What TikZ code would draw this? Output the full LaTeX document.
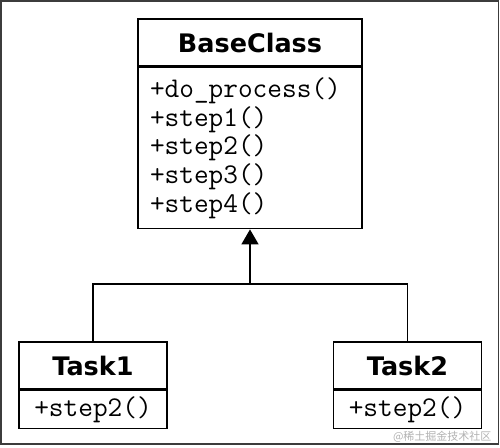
\documentclass[tikz,border=0pt]{standalone}
\usepackage{fontspec}
\usepackage{tikz}
\usetikzlibrary{arrows.meta,positioning}
\newfontfamily\titlefont{DejaVu Sans}
\newfontfamily\cjk{Noto Sans CJK SC}
\definecolor{frame}{RGB}{60,60,60}

\begin{document}
\begin{tikzpicture}[x=1pt,y=-1pt,
    titlebox/.style={draw,line width=1.6pt,inner sep=0pt,font=\titlefont\bfseries\fontsize{25.5}{30}\selectfont},
    methbox/.style={draw,line width=1.6pt,inner sep=0pt,font=\ttfamily\fontsize{28.5}{28.7}\selectfont}]
  \useasboundingbox (0,0) rectangle (500,447);
  \draw[frame,line width=1.6pt] (1,1) rectangle (498.5,444);
  % base class: title row + operations
  \node[titlebox,minimum width=224,minimum height=47] (base) at (250,42.5) {BaseClass};
  \node[methbox,below=0pt of base,minimum width=224,minimum height=161,text width=200,align=left] (baseops)
    {+do\_process()\\+step1()\\+step2()\\+step3()\\+step4()};
  % subclasses
  \node[titlebox,minimum width=148,minimum height=47] (task1) at (93,365.5) {Task1};
  \node[methbox,below=0pt of task1,minimum width=148,minimum height=38] (task1ops) {+step2()};
  \node[titlebox,minimum width=148,minimum height=47] (task2) at (407.5,365.5) {Task2};
  \node[methbox,below=0pt of task2,minimum width=148,minimum height=38] (task2ops) {+step2()};
  % generalization
  \coordinate (join) at (250,284);
  \draw[line width=1.6pt] (task1.north) |- (join) -| (task2.north);
  \draw[line width=1.6pt,-{Triangle[width=17pt,length=15pt]}] (join) -- (baseops.south);
  \node[gray!60,font=\cjk\fontsize{11}{13}\selectfont,anchor=east] (mark) at (495,437) {@稀土掘金技术社区};
\end{tikzpicture}
\end{document}
